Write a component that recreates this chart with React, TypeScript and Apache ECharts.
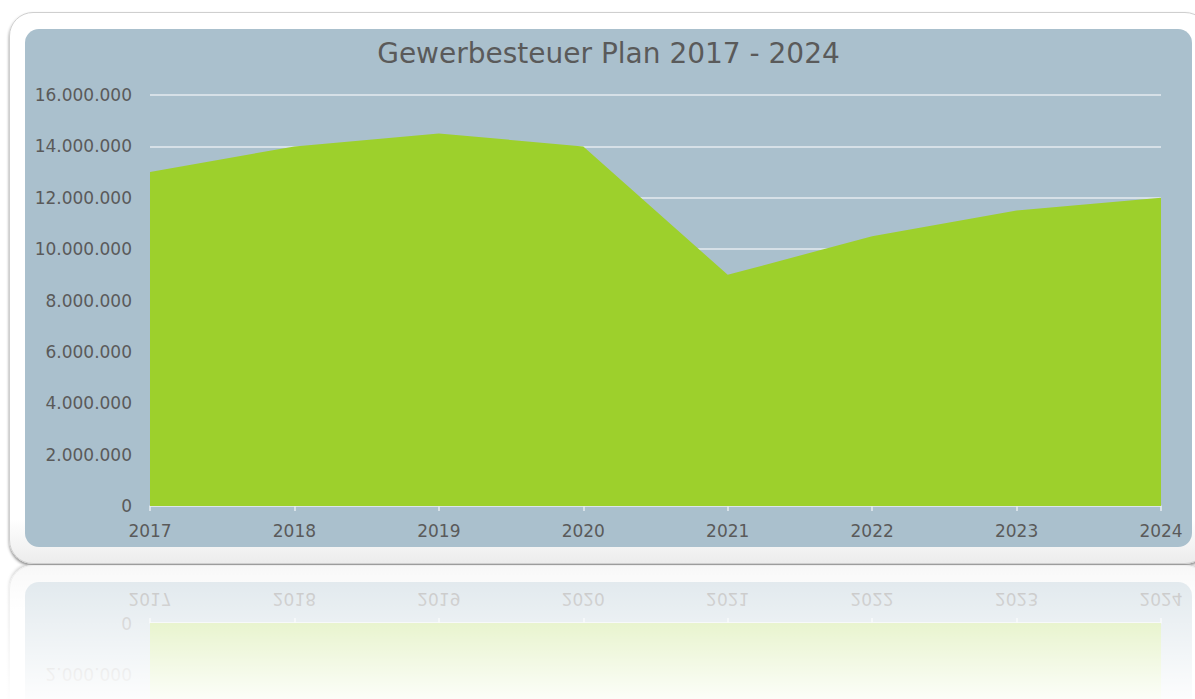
import React, { useEffect, useRef } from "react";
import * as echarts from "echarts";

const years = ["2017", "2018", "2019", "2020", "2021", "2022", "2023", "2024"];
const planValues = [13000000, 14000000, 14500000, 14000000, 9000000, 10500000, 11500000, 12000000];
const chartTitle = "Gewerbesteuer Plan 2017 - 2024";
const yMin = 0;
const yMax = 16000000;
const yStep = 2000000;

const FONT = "DejaVu Sans";

function formatDe(v: number): string {
  const s = Math.round(v).toString();
  return s.replace(/\B(?=(\d{3})+(?!\d))/g, ".");
}

function buildOption(mirror: boolean): any {
  return {
    animation: false,
    title: {
      show: !mirror,
      text: chartTitle,
      left: "center",
      top: 5,
      textStyle: { fontFamily: FONT, fontSize: 28, fontWeight: "normal", color: "#5a5a5a" },
    },
    grid: { left: 125, right: 31, top: 66, bottom: 41, outerBoundsMode: "none" },
    xAxis: {
      type: "category",
      data: years,
      boundaryGap: false,
      axisLine: { show: true, lineStyle: { color: "#dfe7ec", width: 1.5 } },
      axisTick: { show: true, length: 5, lineStyle: { color: "#e6edf1", width: 1.5 } },
      axisLabel: { color: "#5a5a5a", fontSize: 17, fontFamily: FONT, margin: 16 },
      splitLine: { show: false },
    },
    yAxis: {
      type: "value",
      min: yMin,
      max: yMax,
      interval: yStep,
      axisLine: { show: false },
      axisTick: { show: false },
      axisLabel: {
        color: "#5a5a5a",
        fontSize: 17,
        fontFamily: FONT,
        margin: 18,
        // the reflection only shows its lowest labels
        formatter: (v: number) => (mirror && v > yStep ? "" : formatDe(v)),
      },
      splitLine: { show: true, lineStyle: { color: "#e4ebef", width: 1.5 } },
    },
    series: [
      {
        type: "line",
        data: planValues,
        symbol: "none",
        lineStyle: { width: 0 },
        areaStyle: { color: "#9dd02c", opacity: 1 },
      },
    ],
  };
}

function Panel({ top, chartRef }: { top: number; chartRef: any }) {
  return (
    <div
      style={{
        position: "absolute",
        left: 9,
        top,
        width: 1200,
        height: 552,
        background: "linear-gradient(#ffffff 0%, #ffffff 92%, #ececec 100%)",
        borderRadius: 24,
        border: "1px solid #cfcfcf",
        boxSizing: "border-box",
        boxShadow: "0 2px 3px rgba(0,0,0,0.45)",
      }}
    >
      <div
        style={{
          position: "absolute",
          left: 15,
          top: 16,
          width: 1167,
          height: 518,
          background: "#aac0cd",
          borderRadius: 14,
          overflow: "hidden",
        }}
      >
        <div ref={chartRef} style={{ width: 1167, height: 518 }} />
      </div>
    </div>
  );
}

export default function App() {
  const mainRef = useRef<HTMLDivElement>(null);
  const mirrorRef = useRef<HTMLDivElement>(null);

  useEffect(() => {
    const charts: any[] = [];
    const pairs: [HTMLDivElement | null, boolean][] = [
      [mainRef.current, false],
      [mirrorRef.current, true],
    ];
    pairs.forEach(([el, mirror]) => {
      if (!el) return;
      const c = echarts.init(el, undefined, { renderer: "svg" });
      c.setOption(buildOption(mirror));
      charts.push(c);
    });
    return () => charts.forEach((c) => c.dispose());
  }, []);

  return (
    <div
      style={{
        position: "absolute",
        left: 0,
        top: 0,
        width: 1195,
        height: 699,
        overflow: "hidden",
        background: "#ffffff",
      }}
    >
      <Panel top={12} chartRef={mainRef} />
      <div
        style={{
          position: "absolute",
          left: 0,
          top: 565,
          width: 1195,
          height: 134,
          overflow: "hidden",
        }}
      >
        <div
          style={{
            position: "absolute",
            left: 0,
            top: 0,
            width: 1195,
            height: 552,
            transform: "scaleY(-1)",
            transformOrigin: "50% 50%",
          }}
        >
          <Panel top={0} chartRef={mirrorRef} />
        </div>
        <div
          style={{
            position: "absolute",
            left: 0,
            top: 0,
            width: 1195,
            height: 134,
            background: "linear-gradient(rgba(255,255,255,0.62), rgba(255,255,255,0.97))",
          }}
        />
      </div>
    </div>
  );
}
